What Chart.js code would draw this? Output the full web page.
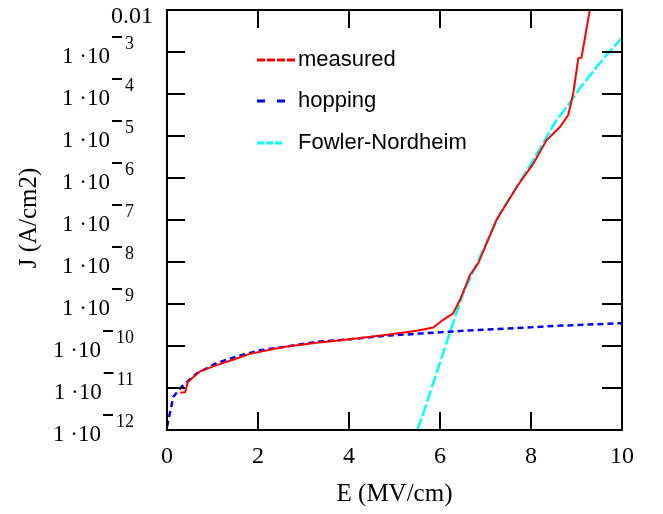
<!DOCTYPE html>
<html>
<head>
<meta charset="utf-8">
<script src="https://cdn.jsdelivr.net/npm/chart.js@4"></script>
<style>
  body { margin: 0; background: #fff; }
  #wrap { width: 663px; height: 514px; }
</style>
</head>
<body>
<div id="wrap"><canvas id="myChart" width="663" height="514"></canvas></div>
<script>
// measured J-E curve
var measuredE = [0.29, 0.40, 0.46, 0.73, 1.09, 1.45, 1.82, 2.56, 3.29, 4.02, 4.75, 5.49, 5.85, 6.07, 6.29, 6.44, 6.66, 6.84, 7.24, 7.69, 8.05, 8.34, 8.64, 8.82, 8.93, 9.04, 9.11, 9.30];
var measuredJ = [7.8e-12, 7.9e-12, 1.4e-11, 2.5e-11, 3.5e-11, 4.7e-11, 6.5e-11, 9.5e-11, 1.2e-10, 1.45e-10, 1.8e-10, 2.3e-10, 2.75e-10, 4.2e-10, 6.0e-10, 1.26e-9, 4.9e-9, 9.3e-9, 1.0e-7, 6.2e-7, 2.2e-6, 7.9e-6, 1.66e-5, 3.2e-5, 1.05e-4, 7.1e-4, 7.4e-4, 1.1e-2];

// hopping model
var hoppingE = [0.0, 0.03, 0.14, 0.32, 0.65, 1.09, 1.53, 2.04, 2.56, 3.29, 4.02, 4.75, 5.49, 6.5, 7.5, 8.5, 10];
var hoppingJ = [1.2e-12, 1.7e-12, 6.2e-12, 1.07e-11, 2.2e-11, 3.9e-11, 5.6e-11, 7.9e-11, 9.5e-11, 1.26e-10, 1.45e-10, 1.74e-10, 1.95e-10, 2.3e-10, 2.6e-10, 3.0e-10, 3.5e-10];

// Fowler-Nordheim model
var fnE = [5.50, 5.71, 5.85, 6.07, 6.26, 6.51, 6.88, 7.32, 7.69, 8.05, 8.27, 8.56, 8.79, 9.11, 9.30, 9.66, 9.96, 10];
var fnJ = [1.0e-12, 4.3e-12, 1.3e-11, 6.8e-11, 2.9e-10, 1.8e-9, 1.35e-8, 1.45e-7, 6.2e-7, 2.7e-6, 6.8e-6, 2.4e-5, 5.0e-5, 1.55e-4, 2.8e-4, 8.5e-4, 1.95e-3, 2.1e-3];

var xTicks = [0, 2, 4, 6, 8, 10];
var yExps = [-2, -3, -4, -5, -6, -7, -8, -9, -10, -11, -12];

function pts(xs, ys) {
	var out = [];
	for (var i = 0; i < xs.length; i++) out.push({x: xs[i], y: ys[i]});
	return out;
}

var serif = '"Liberation Serif", "Times New Roman", serif';
var sans = '"Liberation Sans", Arial, sans-serif';

var frame = {
	id: 'frame',
	afterDraw: function(chart) {
		var c = chart.ctx, a = chart.chartArea;
		var xs = chart.scales.x, ys = chart.scales.y;
		c.save();
		c.strokeStyle = '#000';
		c.lineWidth = 2;
		c.strokeRect(a.left, a.top, a.right - a.left, a.bottom - a.top);

		// inward ticks, all four sides
		c.beginPath();
		xTicks.forEach(function(t) {
			var px = xs.getPixelForValue(t);
			c.moveTo(px, a.bottom); c.lineTo(px, a.bottom - 18);
			c.moveTo(px, a.top); c.lineTo(px, a.top + 18);
		});
		yExps.forEach(function(e) {
			var py = ys.getPixelForValue(Math.pow(10, e));
			c.moveTo(a.left, py); c.lineTo(a.left + 18, py);
			c.moveTo(a.right, py); c.lineTo(a.right - 20, py);
		});
		c.stroke();

		// x tick labels
		c.fillStyle = '#000';
		c.font = '24px ' + serif;
		c.textAlign = 'center';
		c.textBaseline = 'alphabetic';
		xTicks.forEach(function(t) {
			c.fillText(String(t), xs.getPixelForValue(t), 463);
		});

		// y tick labels, 1·10 with raised exponent
		var right = 134;
		yExps.forEach(function(e) {
			var py = ys.getPixelForValue(Math.pow(10, e));
			if (e == -2) {
				c.font = '24px ' + serif;
				c.textAlign = 'right';
				c.fillText('0.01', 153, py + 13);
				return;
			}
			var digits = String(-e);
			c.font = '18px ' + serif;
			c.textAlign = 'right';
			c.fillText(digits, right, py - 3);
			var dStart = right - c.measureText(digits).width;
			var mEnd = dStart - 3, mStart = mEnd - 10;
			c.fillRect(mStart, py - 16, 10, 2);
			c.font = '23px ' + serif;
			c.fillText('1 \u00b710', mStart - 2, py + 11);
		});

		// axis titles
		c.font = '25px ' + serif;
		c.textAlign = 'center';
		c.fillText('E (MV/cm)', (a.left + a.right) / 2, 501);
		c.save();
		c.translate(36, 218);
		c.rotate(-Math.PI / 2);
		c.fillText('J (A/cm2)', 0, 0);
		c.restore();

		// legend
		var items = chart.data.datasets;
		var ly = [60, 101, 143];
		var lx = [295, 285, 284];
		c.font = '22px ' + sans;
		c.textAlign = 'left';
		c.textBaseline = 'middle';
		items.forEach(function(d, i) {
			c.save();
			c.strokeStyle = d.borderColor;
			c.lineWidth = 3;
			c.setLineDash(d.legendDash);
			c.beginPath();
			c.moveTo(257, ly[i]); c.lineTo(lx[i], ly[i]);
			c.stroke();
			c.restore();
			c.fillText(d.label, 298, ly[i]);
		});
		c.restore();
	}
};

var ctx1 = document.getElementById('myChart').getContext('2d');
new Chart(ctx1, {
	type: 'scatter',
	data: {
		datasets: [{
			label: 'measured',
			data: pts(measuredE, measuredJ),
			borderColor: '#ff0000',
			borderWidth: 2,
			legendDash: [8, 2],
			showLine: true,
			pointRadius: 0
		}, {
			label: 'hopping',
			data: pts(hoppingE, hoppingJ),
			borderColor: '#0000ee',
			borderWidth: 2.5,
			borderDash: [6, 4],
			legendDash: [8, 12],
			showLine: true,
			pointRadius: 0
		}, {
			label: 'Fowler-Nordheim',
			data: pts(fnE, fnJ),
			borderColor: '#00ffff',
			borderWidth: 2.5,
			borderDash: [12, 3],
			legendDash: [7, 2],
			showLine: true,
			pointRadius: 0
		}]
	},
	options: {
		responsive: false,
		animation: false,
		layout: { padding: { top: 10, right: 41, left: 0, bottom: 0 } },
		plugins: { legend: { display: false }, tooltip: { enabled: false } },
		scales: {
			x: {
				type: 'linear', min: 0, max: 10,
				ticks: { display: false },
				grid: { display: false },
				border: { display: false },
				afterFit: function(s) { s.height = 84; }
			},
			y: {
				type: 'logarithmic', min: 1e-12, max: 1e-2,
				ticks: { display: false },
				grid: { display: false },
				border: { display: false },
				afterFit: function(s) { s.width = 167; }
			}
		}
	},
	plugins: [frame]
});
</script>
</body>
</html>
